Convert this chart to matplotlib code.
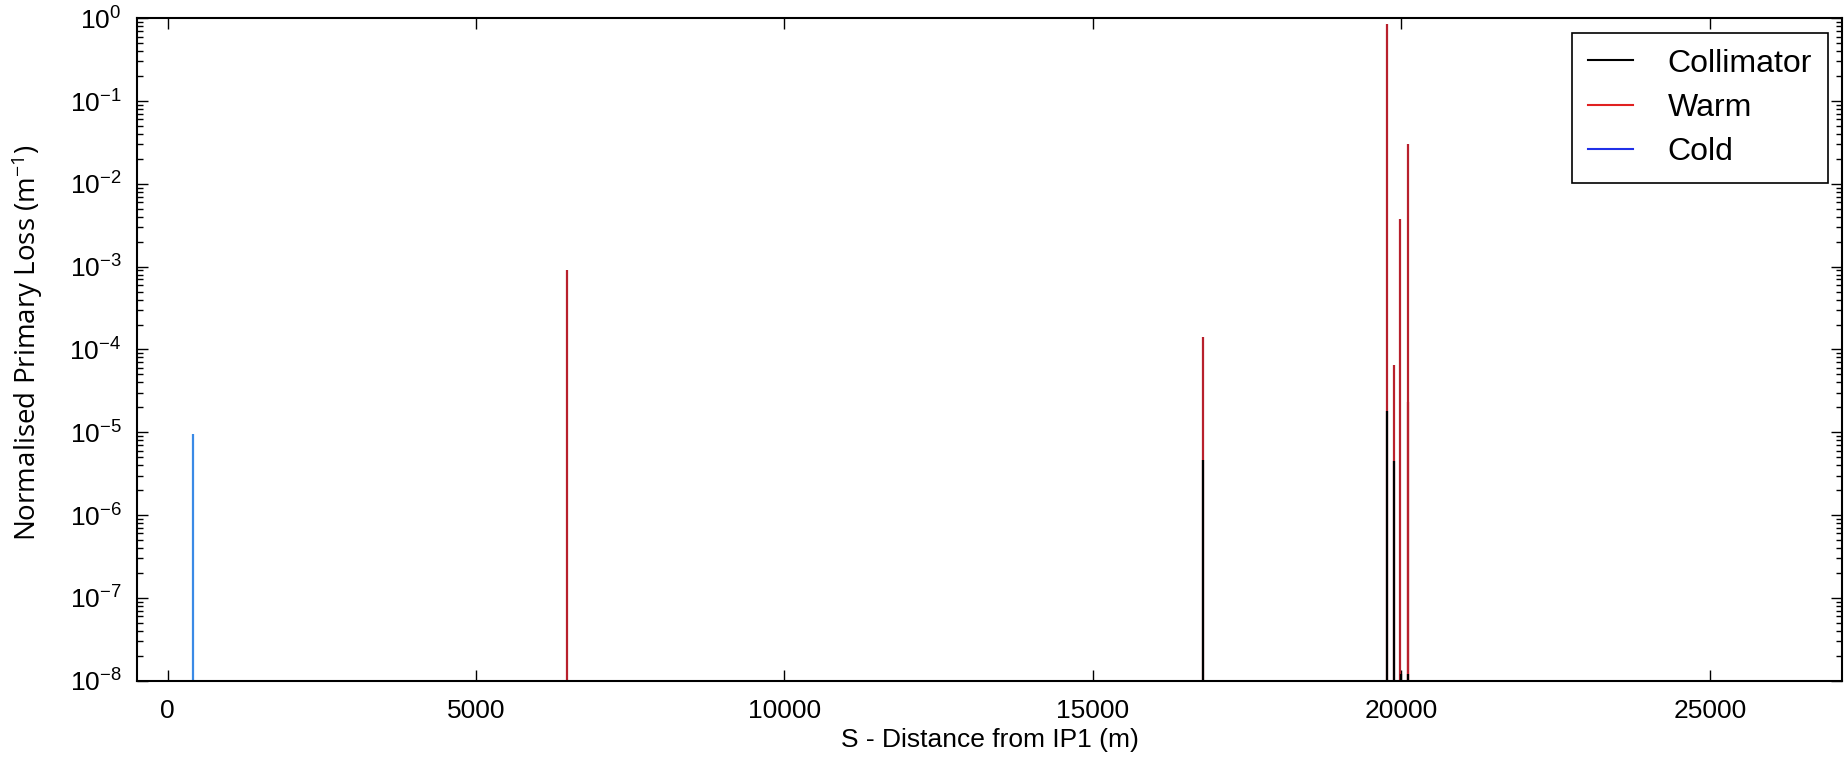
import matplotlib
matplotlib.use("Agg")
import matplotlib.pyplot as plt
from matplotlib.lines import Line2D

# loss spikes (s position in m, normalised loss in 1/m)
warm_s = [6480, 16790, 19775, 19880, 19985, 20115, 20105]
warm_loss = [9.0e-4, 1.4e-4, 0.85, 6.5e-5, 3.8e-3, 3.0e-2, 2.3e-5]

coll_s = [16790, 19775, 19880, 19995, 20110]
coll_loss = [4.6e-6, 1.8e-5, 4.5e-6, 1.2e-8, 1.2e-8]

cold_s = [415]
cold_loss = [9.5e-6]

labels = ["Collimator", "Warm", "Cold"]
floor = 1e-8


def main():
    plt.rcParams['font.family'] = ['Liberation Sans', 'DejaVu Sans']
    plt.rcParams['mathtext.default'] = 'regular'
    plt.rcParams['axes.unicode_minus'] = False

    fig = plt.figure(figsize=(18.48, 7.58), dpi=100)
    ax = fig.add_axes([0.074, 0.102, 0.923, 0.874])

    ax.vlines(warm_s, floor, warm_loss, color='#b8202c', lw=1.6)
    ax.vlines(coll_s, floor, coll_loss, color='black', lw=1.6)
    ax.vlines(cold_s, floor, cold_loss, color='#3a8ae6', lw=1.6)

    ax.set_yscale('log')
    ax.set_ylim(1e-8, 1)
    ax.set_xlim(-500, 27150)
    ax.set_xticks([0, 5000, 10000, 15000, 20000, 25000])

    ax.tick_params(which='both', direction='in', top=True, right=True)
    ax.tick_params(axis='x', labelsize=19, pad=13)
    ax.tick_params(axis='y', labelsize=19, pad=11)
    ax.tick_params(which='major', length=8, width=1)
    ax.tick_params(which='minor', length=4, width=1)
    for sp in ax.spines.values():
        sp.set_linewidth(1.5)

    ax.set_xlabel("S - Distance from IP1 (m)", fontsize=19, labelpad=4)
    ax.set_ylabel("Normalised Primary Loss (m$^{-1}$)", fontsize=20,
                  family=['Open Sans', 'DejaVu Sans'])
    ax.yaxis.set_label_coords(-0.0535, 0.51)

    handles = [Line2D([], [], color='black', lw=1.5),
               Line2D([], [], color='#e02020', lw=1.5),
               Line2D([], [], color='#2030e8', lw=1.5)]
    leg = ax.legend(handles, labels, loc='upper right', fontsize=23,
                    fancybox=False, framealpha=1, edgecolor='black',
                    handlelength=1.4, handletextpad=1.1, borderpad=0.5,
                    labelspacing=0.45, borderaxespad=0.45)
    leg.get_frame().set_linewidth(1.2)

    fig.savefig("out.png", dpi=100)


if __name__ == "__main__":
    main()
